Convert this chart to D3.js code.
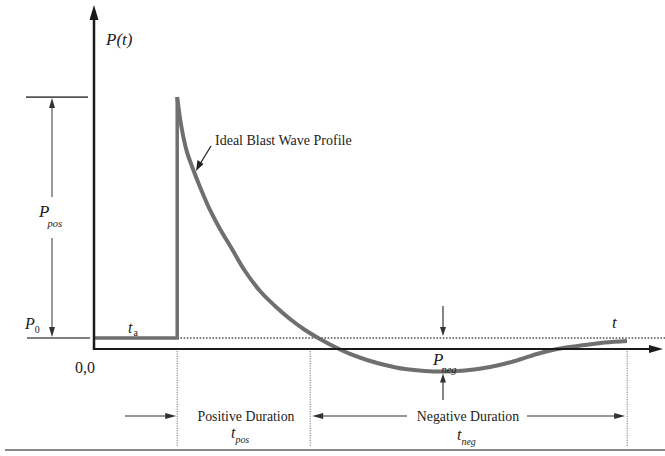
<!DOCTYPE html>
<html><head><meta charset="utf-8">
<script src="https://cdn.jsdelivr.net/npm/d3@7"></script>
<style>
html,body{margin:0;padding:0;background:#fff;}
svg{display:block;}
text{font-family:"Liberation Serif","Times New Roman",Times,serif;fill:#222;}
</style></head>
<body>
<svg id="c" width="665" height="456"></svg>
<script>
// ---- data ----
const curveT = [14.7, 15.19, 15.72, 16.43, 17.49, 18.73, 20.49, 22.26, 24.38, 26.68, 29.33, 31.98, 34.63, 37.28, 39.93, 42.58, 45.23, 48.23, 51.41, 54.95, 58.48, 61.66, 65.55, 69.96, 74.38, 78.27, 82.33, 86.75, 90.28, 94.17];
const curveP = [22.9, 21.0, 19.45, 17.9, 16.36, 14.73, 12.64, 10.91, 9.09, 7.09, 5.27, 3.91, 2.73, 1.73, 0.91, 0.18, -0.45, -1.0, -1.45, -1.82, -2.0, -2.05, -1.95, -1.64, -1.09, -0.45, 0.05, 0.36, 0.59, 0.73];
const ambientT = [0, 14.7];
const P0 = 1.0;
const Ppeak = 22.9;
const Pmin = -2.05;
const ta = 14.7, tPosEnd = 38.2, tNegEnd = 94.2, tMin = 61.66;
const originLabel = "0,0";
const annotationText = "Ideal Blast Wave Profile";
const durationLabels = ["Positive Duration", "Negative Duration"];

const svg = d3.select("#c");
const x = d3.scaleLinear().domain([0, 100]).range([94, 660]);
const y = d3.scaleLinear().domain([0, 31]).range([349, 8]);

const gray = "#6f6f6f", dark = "#1a1a1a";

function tri(g, pts, col) {
  g.append("path").attr("d", "M" + pts.map(p => p.join(",")).join("L") + "Z").attr("fill", col);
}

// bottom separator line
svg.append("line").attr("x1", 5).attr("x2", 665).attr("y1", 450).attr("y2", 450)
  .attr("stroke", "#8a8a8a").attr("stroke-width", 2);

// dotted ambient line
svg.append("line").attr("x1", x(ta)).attr("x2", 665).attr("y1", y(P0)).attr("y2", y(P0))
  .attr("stroke", "#555").attr("stroke-width", 1.6).attr("stroke-dasharray", "1.6,1.6");

// vertical dotted guide lines
[ta, tPosEnd, tNegEnd].forEach(t => {
  svg.append("line").attr("x1", x(t)).attr("x2", x(t)).attr("y1", y(0) + 2).attr("y2", 446)
    .attr("stroke", "#777").attr("stroke-width", 1).attr("stroke-dasharray", "1.2,1.2");
});

// ambient segment and shock front
svg.append("path")
  .attr("d", d3.line().x(d => x(d[0])).y(d => y(d[1]))([[ambientT[0], P0], [ambientT[1], P0], [ta, Ppeak]]))
  .attr("fill", "none").attr("stroke", gray).attr("stroke-width", 3.5);

// decay curve
const pts = curveT.map((t, i) => [t, curveP[i]]);
svg.append("path")
  .attr("d", d3.line().x(d => x(d[0])).y(d => y(d[1])).curve(d3.curveCatmullRom.alpha(0.5))(pts))
  .attr("fill", "none").attr("stroke", gray).attr("stroke-width", 4).attr("stroke-linecap", "butt");

// axes
svg.append("line").attr("x1", x(0)).attr("x2", x(0)).attr("y1", y(0) + 1).attr("y2", 16)
  .attr("stroke", dark).attr("stroke-width", 2.5);
tri(svg, [[x(0), 5], [x(0) - 4.5, 20], [x(0) + 4.5, 20]], dark);
svg.append("line").attr("x1", x(0) - 1).attr("x2", 652).attr("y1", y(0)).attr("y2", y(0))
  .attr("stroke", dark).attr("stroke-width", 2.2);
tri(svg, [[663, y(0)], [649, y(0) - 4], [649, y(0) + 4]], dark);

// left annotation: Ppos arrow and P0 line
svg.append("line").attr("x1", 26).attr("x2", 88).attr("y1", y(Ppeak)).attr("y2", y(Ppeak))
  .attr("stroke", "#555").attr("stroke-width", 1.6);
svg.append("line").attr("x1", 27).attr("x2", 90).attr("y1", y(P0)).attr("y2", y(P0))
  .attr("stroke", "#555").attr("stroke-width", 1.6);
svg.append("line").attr("x1", 52).attr("x2", 52).attr("y1", y(Ppeak) + 8).attr("y2", 197)
  .attr("stroke", "#555").attr("stroke-width", 1.2);
svg.append("line").attr("x1", 52).attr("x2", 52).attr("y1", 238).attr("y2", y(P0) - 8)
  .attr("stroke", "#555").attr("stroke-width", 1.2);
tri(svg, [[52, y(Ppeak) + 1], [49, y(Ppeak) + 11], [55, y(Ppeak) + 11]], "#333");
tri(svg, [[52, y(P0) - 1], [49, y(P0) - 11], [55, y(P0) - 11]], "#333");

// Pneg arrows
const xm = x(tMin);
svg.append("line").attr("x1", xm).attr("x2", xm).attr("y1", 306).attr("y2", y(P0) - 6)
  .attr("stroke", "#333").attr("stroke-width", 1.2);
tri(svg, [[xm, y(P0) - 2], [xm - 3, y(P0) - 11], [xm + 3, y(P0) - 11]], "#333");
svg.append("line").attr("x1", xm).attr("x2", xm).attr("y1", 400).attr("y2", y(Pmin) + 6)
  .attr("stroke", "#333").attr("stroke-width", 1.2);
tri(svg, [[xm, y(Pmin) + 2], [xm - 3, y(Pmin) + 11], [xm + 3, y(Pmin) + 11]], "#333");

// annotation arrow
svg.append("line").attr("x1", 211).attr("x2", 200).attr("y1", 146).attr("y2", 164)
  .attr("stroke", "#222").attr("stroke-width", 1.3);
tri(svg, [[196, 171], [197.5, 160], [203.5, 164]], "#222");
svg.append("text").attr("x", 215).attr("y", 145).attr("font-size", 14).text(annotationText);

// duration arrows
const ay = 416;
svg.append("line").attr("x1", 125).attr("x2", x(ta) - 6).attr("y1", ay).attr("y2", ay).attr("stroke", "#333").attr("stroke-width", 1.2);
tri(svg, [[x(ta) - 1, ay], [x(ta) - 12, ay - 3], [x(ta) - 12, ay + 3]], "#333");
svg.append("line").attr("x1", x(tPosEnd) + 6).attr("x2", 407).attr("y1", ay).attr("y2", ay).attr("stroke", "#333").attr("stroke-width", 1.2);
tri(svg, [[x(tPosEnd) + 2, ay], [x(tPosEnd) + 13, ay - 3], [x(tPosEnd) + 13, ay + 3]], "#333");
svg.append("line").attr("x1", 527).attr("x2", x(tNegEnd) - 6).attr("y1", ay).attr("y2", ay).attr("stroke", "#333").attr("stroke-width", 1.2);
tri(svg, [[x(tNegEnd) - 2, ay], [x(tNegEnd) - 13, ay - 3], [x(tNegEnd) - 13, ay + 3]], "#333");

svg.append("text").attr("x", 246).attr("y", 421).attr("text-anchor", "middle").attr("font-size", 13.8).text(durationLabels[0]);
svg.append("text").attr("x", 468).attr("y", 421).attr("text-anchor", "middle").attr("font-size", 13.8).text(durationLabels[1]);

// symbol labels
function sym(xp, yp, main, sub, size, subDx, subDy, subItalic) {
  const t = svg.append("text").attr("x", xp).attr("y", yp).attr("font-size", size).attr("font-style", "italic");
  t.append("tspan").text(main);
  if (sub) t.append("tspan").attr("dx", subDx || 0).attr("dy", subDy).attr("font-size", size * 0.62)
    .attr("font-style", subItalic === false ? "normal" : "italic").text(sub);
}
svg.append("text").attr("x", 106).attr("y", 45).attr("font-size", 17).attr("font-style", "italic").text("P(t)");
sym(39, 217, "P", "pos", 17, -2, 10);
sym(25, 329, "P", "0", 16, 0, 4, false);
sym(128, 333, "t", "a", 16, 1, 3, false);
sym(433, 365, "P", "neg", 17, -2, 8);
sym(231, 438, "t", "pos", 16, 0, 5);
sym(457, 440, "t", "neg", 16, 0, 5);
svg.append("text").attr("x", 612).attr("y", 328).attr("font-size", 17).attr("font-style", "italic").text("t");
svg.append("text").attr("x", 75).attr("y", 373).attr("font-size", 16).text(originLabel);
</script>
</body></html>
